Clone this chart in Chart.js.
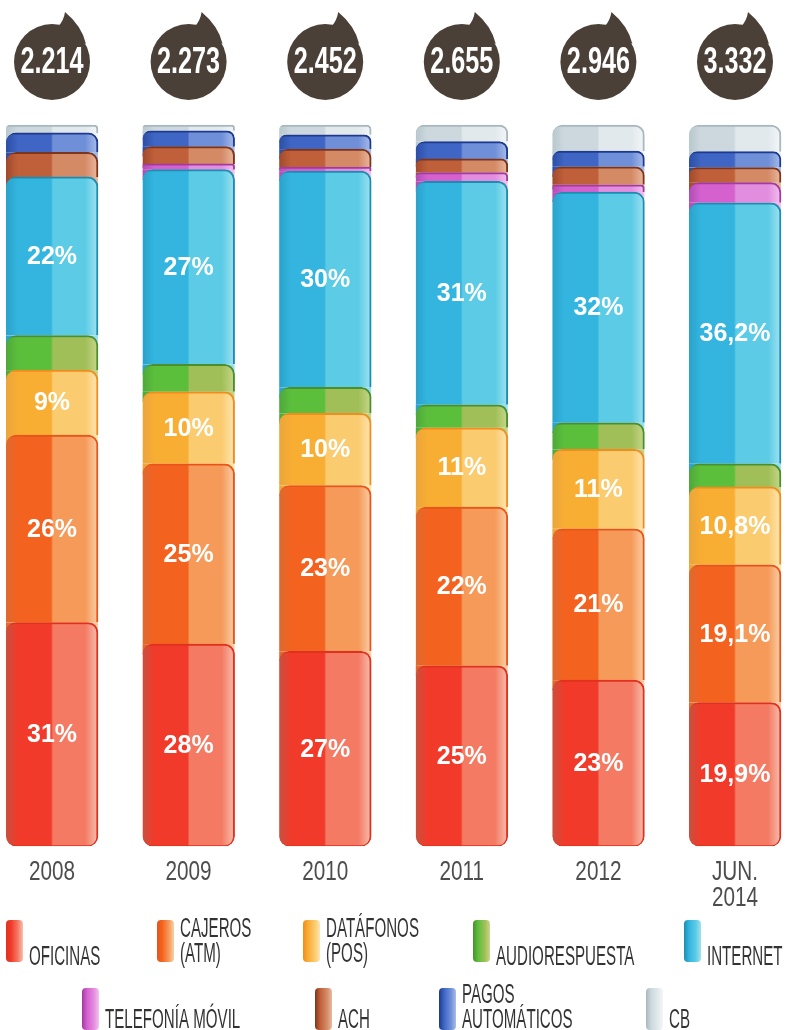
<!DOCTYPE html>
<html>
<head>
<meta charset="utf-8">
<script src="https://cdn.jsdelivr.net/npm/chart.js@4"></script>
<style>
  html, body { margin: 0; padding: 0; background: #fff; }
  canvas { display: block; }
</style>
</head>
<body>
<canvas id="chart" width="786" height="1030"></canvas>
<script>
/* --- data ---------------------------------------------------------- */
const years  = ['2008', '2009', '2010', '2011', '2012', ['JUN.', '2014']];
const totals = [2214, 2273, 2452, 2655, 2946, 3332];

const oficinas   = [31,  28,  27,   25,  23,  19.9];
const cajeros    = [26,  25,  23,   22,  21,  19.1];
const datafonos  = [9,   10,  10,   11,  11,  10.8];
const audio      = [4.8, 3.8, 3.6,  3.2, 3.7, 3.2];
const internet   = [22,  27,  30,   31,  32,  36.2];
const telefonia  = [0,   0.8, 0.55, 1.2, 1.0, 2.8];
const ach        = [3.4, 2.4, 2.5,  1.9, 2.5, 2.1];
const pagos      = [2.7, 2.2, 2.0,  2.4, 2.2, 2.2];
const cb         = [1.1, 0.8, 1.35, 2.3, 3.6, 3.7];

const names = ['OFICINAS', 'CAJEROS\n(ATM)', 'DATÁFONOS\n(POS)', 'AUDIORESPUESTA', 'INTERNET',
               'TELEFONÍA MÓVIL', 'ACH', 'PAGOS\nAUTOMÁTICOS', 'CB'];
const series = [oficinas, cajeros, datafonos, audio, internet, telefonia, ach, pagos, cb];
const labelled = [0, 1, 2, 4];   // series that carry a % label

/* --- colours: dark edge, main, light half, pale edge, outline ------- */
const palette = [
  ['#c9503e', '#f23a2a', '#f47a63', '#f8c0b0', '#e0301e'],
  ['#dd6a30', '#f4621f', '#f69a5a', '#fad0a8', '#e8541a'],
  ['#eaa53c', '#f8ad33', '#fbcb70', '#fde6b2', '#f28c1e'],
  ['#4ea83a', '#5cbf3c', '#a0bf58', '#c8d78a', '#4a8f2c'],
  ['#2aa2cb', '#33b5df', '#5ccbe6', '#a0e2f0', '#1c8db0'],
  ['#b04db6', '#d561cf', '#e38ddf', '#f2c2ee', '#a23aa0'],
  ['#a04a2c', '#c0603a', '#d58a66', '#eab9a0', '#7e3418'],
  ['#2c4ea6', '#3f66c4', '#6f8fd8', '#a8bdea', '#1d3a8f'],
  ['#b8c8ce', '#ccd8dd', '#e2e9ec', '#f3f6f7', '#a9b8be']
];
const BAR_W = 92, RAD = 10;

function barGradient(c, cx, w, p) {
  const g = c.createLinearGradient(cx - w / 2, 0, cx + w / 2, 0);
  g.addColorStop(0, p[0]);
  g.addColorStop(0.13, p[1]);
  g.addColorStop(0.49, p[1]);
  g.addColorStop(0.51, p[2]);
  g.addColorStop(0.86, p[2]);
  g.addColorStop(1, p[3]);
  return g;
}

const fillFor = i => ctx => {
  const chart = ctx.chart, x = chart.scales.x;
  if (!chart.chartArea || !x || ctx.dataIndex === undefined) return palette[i][1];
  return barGradient(chart.ctx, x.getPixelForValue(ctx.dataIndex), BAR_W, palette[i]);
};

/* --- condensed text helper ---------------------------------------- */
function squeezed(c, txt, x, y, sx) {
  c.save();
  c.translate(x, y);
  c.scale(sx, 1);
  c.fillText(txt, 0, 0);
  c.restore();
}

const fmt = v => String(v).replace('.', ',') + '%';
const fmtTotal = n => String(n).replace(/\B(?=(\d{3})+(?!\d))/g, '.');

/* --- overlap: fill the rounded top corners with the segment above -- */
const cornerFill = {
  id: 'cornerFill',
  beforeDatasetsDraw(chart) {
    const c = chart.ctx;
    for (let i = 0; i < series.length - 1; i++) {
      const meta = chart.getDatasetMeta(i);
      meta.data.forEach((el, k) => {
        if (!series[i][k]) return;
        let j = i + 1;
        while (j < series.length && !series[j][k]) j++;
        if (j >= series.length) return;
        const h = Math.min(RAD, (el.base - el.y) / 2 + 1);
        c.fillStyle = barGradient(c, el.x, el.width, palette[j]);
        c.fillRect(el.x - el.width / 2, el.y, el.width, h);
      });
    }
  }
};

/* --- % labels, bubbles, year labels, legend ------------------------ */
const SANS = '"Liberation Sans", Arial, sans-serif';
const decorations = {
  id: 'decorations',
  afterDatasetsDraw(chart) {
    const c = chart.ctx;
    c.save();
    c.fillStyle = '#fff';
    c.font = 'bold 25px ' + SANS;
    c.textAlign = 'center';
    c.textBaseline = 'middle';
    labelled.forEach(i => {
      chart.getDatasetMeta(i).data.forEach((el, k) => {
        c.fillText(fmt(series[i][k]), el.x, (el.y + el.base) / 2 + 1);
      });
    });
    c.restore();
  },
  afterDraw(chart) {
    const c = chart.ctx, x = chart.scales.x;
    c.save();

    // speech bubbles with totals
    totals.forEach((t, k) => {
      const cx = x.getPixelForValue(k), cy = 62, r = 38;
      c.fillStyle = '#4a4037';
      c.beginPath();
      c.arc(cx, cy, r, 0, Math.PI * 2);
      c.fill();
      c.beginPath();
      c.moveTo(cx + 6, cy - r + 3);
      c.quadraticCurveTo(cx + 12, cy - r - 4, cx + 13, cy - r - 12);
      c.quadraticCurveTo(cx + 30, cy - r + 2, cx + 34, cy - 18);
      c.closePath();
      c.fill();
      c.fillStyle = '#fff';
      c.font = 'bold 36px ' + SANS;
      c.textAlign = 'center';
      c.textBaseline = 'middle';
      squeezed(c, fmtTotal(t), cx, cy + 1, 0.7);
    });

    // year labels
    c.fillStyle = '#4d4d4d';
    c.font = '28px ' + SANS;
    c.textAlign = 'center';
    c.textBaseline = 'alphabetic';
    years.forEach((y, k) => {
      const lines = Array.isArray(y) ? y : [y];
      lines.forEach((ln, n) => squeezed(c, ln, x.getPixelForValue(k), 880 + n * 26, 0.74));
    });

    // legend: [icon x, icon y, single-line baseline offset, two-line offsets]
    const slots = [
      [6, 920], [157, 920], [303, 920], [473, 920], [684, 920],
      [82, 988], [315, 988], [439, 988], [646, 988]
    ];
    c.font = '27px ' + SANS;
    c.textAlign = 'left';
    slots.forEach(([lx, ly], i) => {
      const p = palette[i], h = 42, w = 17;
      const g = c.createLinearGradient(lx, 0, lx + w, 0);
      g.addColorStop(0, p[4]); g.addColorStop(0.3, p[1]);
      g.addColorStop(0.7, p[2]); g.addColorStop(1, p[3]);
      c.fillStyle = g;
      c.beginPath();
      c.roundRect(lx, ly, w, h, 4);
      c.fill();
      c.fillStyle = '#333';
      const lines = names[i].split('\n');
      const tx = lx + w + 6;
      const row2 = i >= 5;
      if (lines.length === 1) {
        squeezed(c, lines[0], tx, ly + (row2 ? 40 : 45), 0.56);
      } else {
        squeezed(c, lines[0], tx, ly + (row2 ? 15 : 17), 0.56);
        squeezed(c, lines[1], tx, ly + (row2 ? 40 : 42), 0.56);
      }
    });
    c.restore();
  }
};

/* --- chart --------------------------------------------------------- */
const datasets = series.map((d, i) => ({
  label: names[i].replace('\n', ' '),
  data: d,
  backgroundColor: fillFor(i),
  borderColor: palette[i][4],
  borderWidth: i === 0 ? { top: 2, right: 2, bottom: 1, left: 0 } : { top: 2, right: 2, bottom: 0, left: 0 },
  borderSkipped: i === 0 ? false : 'start',
  borderRadius: i === 0
    ? { topLeft: RAD, topRight: RAD, bottomLeft: RAD, bottomRight: RAD }
    : { topLeft: RAD, topRight: RAD, bottomLeft: 0, bottomRight: 0 },
  barThickness: BAR_W,
  clip: false
}));

new Chart(document.getElementById('chart'), {
  type: 'bar',
  data: { labels: years, datasets },
  options: {
    responsive: false,
    devicePixelRatio: 1,
    animation: false,
    layout: { padding: { top: 125, bottom: 184, left: 52, right: 51 } },
    plugins: { legend: { display: false }, tooltip: { enabled: false } },
    scales: {
      x: { stacked: true, offset: false, display: false },
      y: { stacked: true, min: 0, max: 100, display: false }
    }
  },
  plugins: [cornerFill, decorations]
});
</script>
</body>
</html>
